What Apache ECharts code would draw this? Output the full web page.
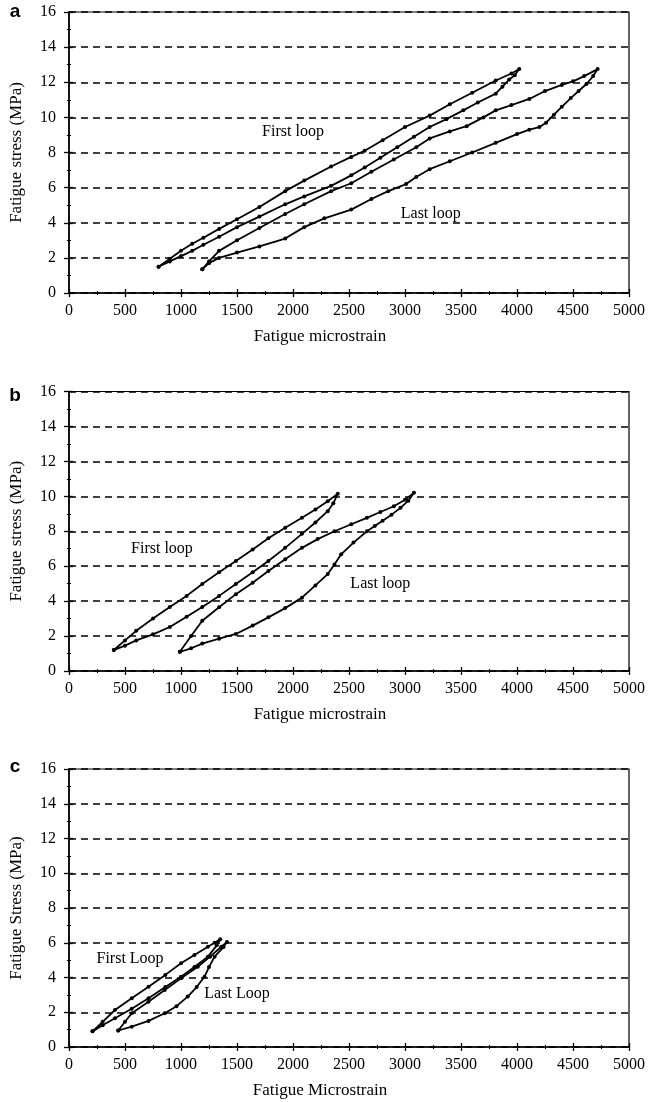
<!DOCTYPE html>
<html><head><meta charset="utf-8">
<script src="https://cdn.jsdelivr.net/npm/echarts@6/dist/echarts.min.js"></script>
<style>html,body{margin:0;padding:0;background:#fff}#c{width:648px;height:1102px}</style>
</head><body><div id="c"></div>
<script>
// ---- tick labels ----
const xTickValues = [0,500,1000,1500,2000,2500,3000,3500,4000,4500,5000];
const yTickValues = [0,2,4,6,8,10,12,14,16];

// ---- panel texts ----
const panelLetters = ['a','b','c'];
const xTitles = ['Fatigue microstrain','Fatigue microstrain','Fatigue Microstrain'];
const yTitles = ['Fatigue stress (MPa)','Fatigue stress (MPa)','Fatigue Stress (MPa)'];
const firstNames = ['First loop','First loop','First Loop'];
const lastNames = ['Last loop','Last loop','Last Loop'];
// annotation anchor [microstrain, MPa]
const firstLabelAt = [[2000,9.2],[830,7.0],[545,5.1]];
const lastLabelAt = [[3230,4.5],[2780,5.0],[1500,3.05]];

// ---- panel a: [microstrain, stress MPa] ----
const aFirstLoop = [
 [800,1.5],[900,1.95],[1000,2.4],[1100,2.8],[1200,3.15],[1340,3.65],[1500,4.2],[1700,4.9],[1930,5.8],[2100,6.4],
 [2340,7.2],[2520,7.75],[2640,8.1],[2800,8.7],[3000,9.45],[3220,10.1],[3400,10.75],[3600,11.4],[3810,12.1],[3950,12.5],[4020,12.75],
 [3980,12.4],[3930,12.15],[3870,11.75],[3810,11.35],[3650,10.85],[3520,10.4],[3370,9.9],[3220,9.45],[3080,8.9],[2930,8.3],
 [2780,7.7],[2640,7.15],[2520,6.7],[2340,6.1],[2100,5.5],[1930,5.05],[1700,4.35],[1500,3.75],[1340,3.2],[1200,2.75],
 [1100,2.4],[1000,2.1],[900,1.8],[800,1.5]
];
const aLastLoop = [
 [1190,1.35],[1250,1.8],[1340,2.4],[1500,3.0],[1700,3.7],[1930,4.5],[2100,5.05],[2340,5.8],[2520,6.25],[2700,6.9],
 [2900,7.6],[3100,8.3],[3220,8.8],[3400,9.2],[3550,9.5],[3700,10.0],[3810,10.4],[3950,10.7],[4110,11.05],[4250,11.5],
 [4400,11.85],[4500,12.05],[4600,12.35],[4720,12.75],
 [4680,12.35],[4620,11.9],[4550,11.5],[4480,11.1],[4400,10.6],[4330,10.15],[4260,9.7],[4200,9.45],[4110,9.3],[4000,9.05],
 [3810,8.55],[3600,8.0],[3400,7.5],[3220,7.05],[3100,6.6],[3010,6.2],[2850,5.8],[2700,5.35],[2520,4.75],[2280,4.25],
 [2100,3.75],[1930,3.1],[1700,2.65],[1500,2.3],[1340,2.0],[1250,1.7],[1190,1.35]
];

// ---- panel b ----
const bFirstLoop = [
 [400,1.2],[500,1.75],[600,2.3],[750,3.0],[900,3.66],[1050,4.3],[1190,4.98],[1340,5.65],[1490,6.3],[1640,6.95],
 [1780,7.6],[1930,8.2],[2080,8.77],[2200,9.25],[2310,9.72],[2400,10.15],
 [2360,9.6],[2310,9.15],[2200,8.5],[2080,7.85],[1930,7.05],[1780,6.3],[1640,5.65],[1490,4.98],[1340,4.3],[1190,3.66],
 [1050,3.1],[900,2.52],[750,2.1],[600,1.75],[500,1.45],[400,1.2]
];
const bLastLoop = [
 [990,1.1],[1090,2.0],[1190,2.88],[1340,3.65],[1490,4.4],[1640,5.05],[1780,5.72],[1930,6.4],[2080,7.05],[2220,7.55],
 [2370,8.0],[2520,8.4],[2660,8.77],[2780,9.1],[2900,9.43],[3000,9.8],[3080,10.2],
 [3030,9.75],[2960,9.34],[2880,8.95],[2800,8.6],[2730,8.3],[2660,8.0],[2540,7.35],[2430,6.68],[2370,6.1],[2310,5.55],
 [2200,4.9],[2080,4.2],[1930,3.6],[1780,3.07],[1640,2.6],[1490,2.12],[1340,1.85],[1190,1.57],[1090,1.3],[990,1.1]
];

// ---- panel c ----
const cFirstLoop = [
 [210,0.9],[300,1.45],[410,2.13],[560,2.8],[710,3.47],[860,4.15],[1000,4.82],[1120,5.3],[1240,5.77],[1300,6.0],[1350,6.2],
 [1320,5.85],[1240,5.2],[1120,4.6],[1000,4.05],[860,3.45],[710,2.8],[560,2.2],[410,1.65],[300,1.25],[210,0.9]
];
const cLastLoop = [
 [440,0.95],[500,1.45],[560,1.94],[710,2.6],[855,3.28],[1000,3.95],[1150,4.62],[1260,5.2],[1360,5.77],[1410,6.05],
 [1380,5.75],[1300,5.2],[1250,4.6],[1210,4.05],[1140,3.45],[1060,2.9],[960,2.35],[855,1.94],[710,1.5],[560,1.17],[440,0.95]
];

const firstLoops = [aFirstLoop, bFirstLoop, cFirstLoop];
const lastLoops = [aLastLoop, bLastLoop, cLastLoop];

// ---- layout / style ----
const SERIF = '"Liberation Serif","DejaVu Serif",serif';
const gridTops = [12, 391.5, 769];
const gridHeights = [281, 279.5, 278];
const letterY = [12, 396, 767];
const INK = '#000';

const xMin = xTickValues[0], xMax = xTickValues[xTickValues.length-1], xInt = xTickValues[1]-xTickValues[0];
const yMin = yTickValues[0], yMax = yTickValues[yTickValues.length-1], yInt = yTickValues[1]-yTickValues[0];
const plain = v => String(v);

const grid = [], xAxis = [], yAxis = [], series = [];
for (let i = 0; i < 3; i++) {
  grid.push({left: 67, width: 563, top: gridTops[i], height: gridHeights[i], show: true,
    borderColor: INK, borderWidth: 1.2, backgroundColor: 'transparent'});
  xAxis.push({type: 'value', gridIndex: i, min: xMin, max: xMax, interval: xInt,
    name: xTitles[i], nameLocation: 'middle', nameGap: 35,
    nameTextStyle: {fontFamily: SERIF, fontSize: 17, color: INK, padding: [0, 58, 0, 0]},
    axisLine: {show: true, onZero: false, lineStyle: {color: INK, width: 1.6}},
    axisTick: {show: true, inside: false, length: 4, lineStyle: {color: INK, width: 1.3}},
    minorTick: {show: true, splitNumber: 2, length: 2, lineStyle: {color: INK, width: 1}},
    axisLabel: {fontFamily: SERIF, fontSize: 16, color: INK, margin: 10, formatter: plain},
    splitLine: {show: false}});
  xAxis.push({type: 'value', gridIndex: i, min: xMin, max: xMax, interval: xInt, position: 'bottom',
    axisLine: {show: false, onZero: false},
    axisTick: {show: true, inside: true, length: 4, lineStyle: {color: INK, width: 1.3}},
    minorTick: {show: true, splitNumber: 2, length: 2, lineStyle: {color: INK, width: 1}},
    axisLabel: {show: false}, splitLine: {show: false}});
  yAxis.push({type: 'value', gridIndex: i, min: yMin, max: yMax, interval: yInt,
    name: yTitles[i], nameLocation: 'middle', nameGap: 44,
    nameTextStyle: {fontFamily: SERIF, fontSize: 17, color: INK},
    axisLine: {show: true, onZero: false, lineStyle: {color: INK, width: 1.6}},
    axisTick: {show: true, inside: false, length: 5, lineStyle: {color: INK, width: 1.3}},
    minorTick: {show: true, splitNumber: 2, length: 2, lineStyle: {color: INK, width: 1}},
    axisLabel: {fontFamily: SERIF, fontSize: 16, color: INK, margin: 13, formatter: plain},
    splitLine: {show: true, lineStyle: {color: '#000', width: 1.6, type: [7, 5]}}});
  yAxis.push({type: 'value', gridIndex: i, min: yMin, max: yMax, interval: yInt, position: 'left',
    axisLine: {show: false, onZero: false},
    axisTick: {show: true, inside: true, length: 4, lineStyle: {color: INK, width: 1.3}},
    minorTick: {show: true, splitNumber: 2, length: 2, lineStyle: {color: INK, width: 1}},
    axisLabel: {show: false}, splitLine: {show: false}});

  const lineCommon = {type: 'line', xAxisIndex: 2*i, yAxisIndex: 2*i, symbol: 'circle', symbolSize: 4,
    showSymbol: true, smooth: false, animation: false,
    itemStyle: {color: INK}, lineStyle: {color: INK, width: 1.8}, z: 5};
  series.push(Object.assign({name: firstNames[i], data: firstLoops[i]}, lineCommon));
  series.push(Object.assign({name: lastNames[i], data: lastLoops[i]}, lineCommon));
}

const chart = echarts.init(document.getElementById('c'), null, {renderer: 'canvas'});
chart.setOption({backgroundColor: '#fff', animation: false, grid, xAxis, yAxis, series});

// text annotations placed through the chart's own scales
const graphic = [];
for (let i = 0; i < 3; i++) {
  const f = chart.convertToPixel({gridIndex: i}, firstLabelAt[i]);
  const l = chart.convertToPixel({gridIndex: i}, lastLabelAt[i]);
  graphic.push({type: 'text', x: f[0], y: f[1], z: 10,
    style: {text: firstNames[i], font: '16px ' + SERIF, fill: INK, align: 'center', verticalAlign: 'middle'}});
  graphic.push({type: 'text', x: l[0], y: l[1], z: 10,
    style: {text: lastNames[i], font: '16px ' + SERIF, fill: INK, align: 'center', verticalAlign: 'middle'}});
  graphic.push({type: 'text', x: 15, y: letterY[i], z: 10,
    style: {text: panelLetters[i], font: 'bold 19px "Liberation Sans", Arial, sans-serif', fill: INK,
      align: 'center', verticalAlign: 'middle'}});
}
chart.setOption({graphic});
</script></body></html>
